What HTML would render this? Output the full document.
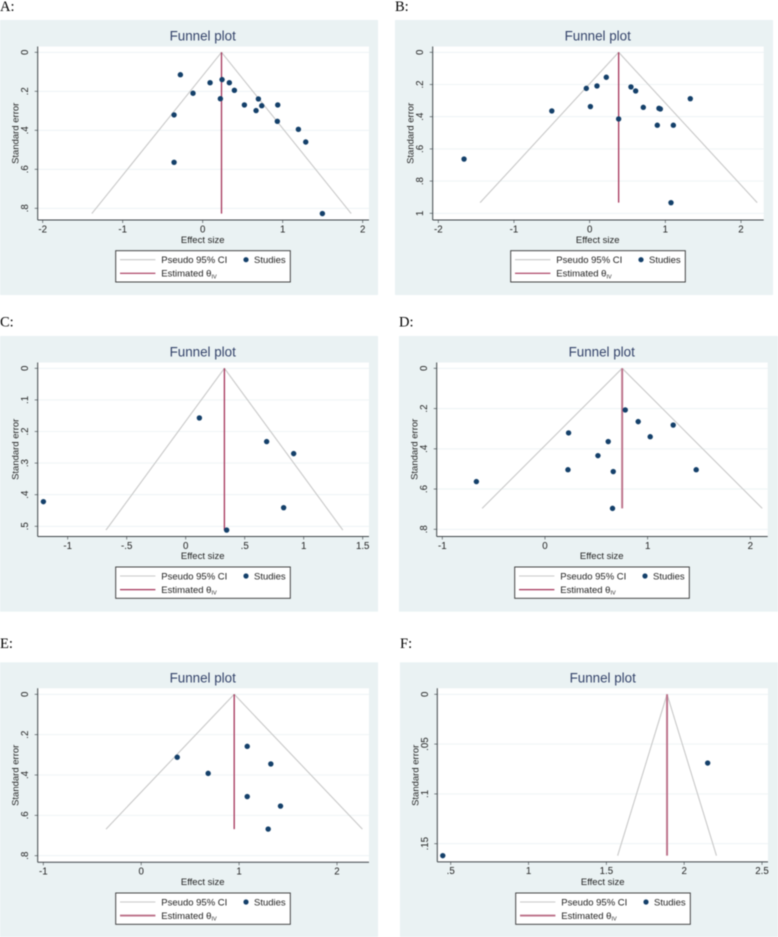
<!DOCTYPE html>
<html lang="en">
<head>
<meta charset="utf-8">
<title>Funnel plots A-F</title>
<style>
html,body{margin:0;padding:0;background:#fff;width:778px;height:937px;overflow:hidden}
svg{display:block;filter:blur(.42px)}
text{font-family:"Liberation Sans",sans-serif;fill:#222}
.letter{font-family:"Liberation Serif",serif;font-size:14.5px;fill:#000}
.bg{fill:#eaf2f3}
.plot{fill:#fff}
.title{font-size:13.4px;fill:#34436a;text-anchor:middle}
.axis-title{font-size:9.5px;text-anchor:middle}
.tick-label{font-size:9.7px;text-anchor:middle}
.grid{stroke:#eaf2f3;stroke-width:.8}
.axis{stroke:#3f4549;stroke-width:1}
.tick{stroke:#4d5358;stroke-width:.7}
.ci{stroke:#c8c8c8;stroke-width:1.1;fill:none}
.est{stroke:#a5345a;stroke-width:1.3}
.est-thick{stroke:#bb6f88;stroke-width:1.9}
.pt{fill:#14406a}
.legend-box{fill:#fff;stroke:#333;stroke-width:.9}
.legend-text{font-size:9.5px}
.legend-ci{stroke:#c8c8c8;stroke-width:1.1}
.legend-est{stroke:#a5345a;stroke-width:1.2}
.legend-est-thick{stroke:#bb6f88;stroke-width:1.9}
</style>
</head>
<body>
<svg xmlns="http://www.w3.org/2000/svg" width="778" height="937" viewBox="0 0 778 937">

<text class="letter" x="0" y="11">A:</text>
<text class="letter" x="395" y="11">B:</text>
<text class="letter" x="0" y="326.5">C:</text>
<text class="letter" x="399" y="326.5">D:</text>
<text class="letter" x="0" y="648">E:</text>
<text class="letter" x="400" y="648">F:</text>

<g transform="translate(0,20)">
  <rect class="bg" width="378" height="275"/>
  <rect class="plot" x="37.7" y="26.5" width="331.3" height="173.5"/>
  <g id="marks-a"></g>
  <text class="title" x="202.7" y="20.7">Funnel plot</text>
  <text class="axis-title" x="202.7" y="222.8">Effect size</text>
  <text class="axis-title" transform="translate(18.3,113.3) rotate(-90)">Standard error</text>
  <g transform="translate(115.7,230.7)">
    <rect class="legend-box" width="174.6" height="31.3"/>
    <line class="legend-ci" x1="4.3" x2="39.7" y1="9" y2="9"/>
    <text class="legend-text" x="45.6" y="12.4">Pseudo 95% CI</text>
    <circle class="pt" cx="130.3" cy="9" r="2.6"/>
    <text class="legend-text" x="138.3" y="12.4">Studies</text>
    <line class="legend-est" x1="4.3" x2="39.7" y1="22.6" y2="22.6"/>
    <text class="legend-text" x="45.6" y="26">Estimated θ<tspan font-size="5.5" dy="1.6">IV</tspan></text>
  </g>
</g>

<g transform="translate(395,20)">
  <rect class="bg" width="378" height="275"/>
  <rect class="plot" x="37.7" y="26.5" width="331" height="173.5"/>
  <g id="marks-b"></g>
  <text class="title" x="202.7" y="20.7">Funnel plot</text>
  <text class="axis-title" x="202.7" y="222.8">Effect size</text>
  <text class="axis-title" transform="translate(18.3,113.3) rotate(-90)">Standard error</text>
  <g transform="translate(115.7,230.7)">
    <rect class="legend-box" width="174.6" height="31.3"/>
    <line class="legend-ci" x1="4.3" x2="39.7" y1="9" y2="9"/>
    <text class="legend-text" x="45.6" y="12.4">Pseudo 95% CI</text>
    <circle class="pt" cx="130.3" cy="9" r="2.6"/>
    <text class="legend-text" x="138.3" y="12.4">Studies</text>
    <line class="legend-est" x1="4.3" x2="39.7" y1="22.6" y2="22.6"/>
    <text class="legend-text" x="45.6" y="26">Estimated θ<tspan font-size="5.5" dy="1.6">IV</tspan></text>
  </g>
</g>

<g transform="translate(0,336)">
  <rect class="bg" width="378" height="275.7"/>
  <rect class="plot" x="37.7" y="26.5" width="331.3" height="174"/>
  <g id="marks-c"></g>
  <text class="title" x="202.7" y="20.7">Funnel plot</text>
  <text class="axis-title" x="202.7" y="222.8">Effect size</text>
  <text class="axis-title" transform="translate(18.3,113.3) rotate(-90)">Standard error</text>
  <g transform="translate(115.7,231)">
    <rect class="legend-box" width="174.6" height="31.3"/>
    <line class="legend-ci" x1="4.3" x2="39.7" y1="9" y2="9"/>
    <text class="legend-text" x="45.6" y="12.4">Pseudo 95% CI</text>
    <circle class="pt" cx="130.3" cy="9" r="2.6"/>
    <text class="legend-text" x="138.3" y="12.4">Studies</text>
    <line class="legend-est" x1="4.3" x2="39.7" y1="22.6" y2="22.6"/>
    <text class="legend-text" x="45.6" y="26">Estimated θ<tspan font-size="5.5" dy="1.6">IV</tspan></text>
  </g>
</g>

<g transform="translate(399,336)">
  <rect class="bg" width="379" height="275.7"/>
  <rect class="plot" x="37.7" y="26.5" width="331" height="174"/>
  <g id="marks-d"></g>
  <text class="title" x="202.7" y="20.7">Funnel plot</text>
  <text class="axis-title" x="202.7" y="222.8">Effect size</text>
  <text class="axis-title" transform="translate(18.3,113.3) rotate(-90)">Standard error</text>
  <g transform="translate(115.7,231)">
    <rect class="legend-box" width="174.6" height="31.3"/>
    <line class="legend-ci" x1="4.3" x2="39.7" y1="9" y2="9"/>
    <text class="legend-text" x="45.6" y="12.4">Pseudo 95% CI</text>
    <circle class="pt" cx="130.3" cy="9" r="2.6"/>
    <text class="legend-text" x="138.3" y="12.4">Studies</text>
    <line class="legend-est" x1="4.3" x2="39.7" y1="22.6" y2="22.6"/>
    <text class="legend-text" x="45.6" y="26">Estimated θ<tspan font-size="5.5" dy="1.6">IV</tspan></text>
  </g>
</g>

<g transform="translate(0,662.3)">
  <rect class="bg" width="378" height="274.7"/>
  <rect class="plot" x="37.7" y="26" width="331.3" height="174"/>
  <g id="marks-e"></g>
  <text class="title" x="202.7" y="20.4">Funnel plot</text>
  <text class="axis-title" x="202.7" y="222.6">Effect size</text>
  <text class="axis-title" transform="translate(18.3,113) rotate(-90)">Standard error</text>
  <g transform="translate(115.7,230.7)">
    <rect class="legend-box" width="174.6" height="31.3"/>
    <line class="legend-ci" x1="4.3" x2="39.7" y1="9" y2="9"/>
    <text class="legend-text" x="45.6" y="12.4">Pseudo 95% CI</text>
    <circle class="pt" cx="130.3" cy="9" r="2.6"/>
    <text class="legend-text" x="138.3" y="12.4">Studies</text>
    <line class="legend-est-thick" x1="4.3" x2="39.7" y1="22.6" y2="22.6"/>
    <text class="legend-text" x="45.6" y="26">Estimated θ<tspan font-size="5.5" dy="1.6">IV</tspan></text>
  </g>
</g>

<g transform="translate(400,662.3)">
  <rect class="bg" width="378" height="274.7"/>
  <rect class="plot" x="37.3" y="26" width="330.7" height="173.6"/>
  <g id="marks-f"></g>
  <text class="title" x="202.7" y="20.4">Funnel plot</text>
  <text class="axis-title" x="202.7" y="222.6">Effect size</text>
  <text class="axis-title" transform="translate(18.3,113) rotate(-90)">Standard error</text>
  <g transform="translate(115.7,230.7)">
    <rect class="legend-box" width="174.6" height="31.3"/>
    <line class="legend-ci" x1="4.3" x2="39.7" y1="9" y2="9"/>
    <text class="legend-text" x="45.6" y="12.4">Pseudo 95% CI</text>
    <circle class="pt" cx="130.3" cy="9" r="2.6"/>
    <text class="legend-text" x="138.3" y="12.4">Studies</text>
    <line class="legend-est-thick" x1="4.3" x2="39.7" y1="22.6" y2="22.6"/>
    <text class="legend-text" x="45.6" y="26">Estimated θ<tspan font-size="5.5" dy="1.6">IV</tspan></text>
  </g>
</g>
</svg>

<script>
// Panel A
const panelAEffect = [-0.279, -0.121, 0.092, 0.242, 0.333, 0.396, 0.221, 0.696, 0.521, 0.738, 0.667, 0.938, 0.933, 1.196, 1.288, -0.358, -0.358, 1.496];
const panelASE = [0.115, 0.21, 0.156, 0.14, 0.156, 0.195, 0.238, 0.239, 0.27, 0.274, 0.299, 0.27, 0.354, 0.395, 0.46, 0.321, 0.564, 0.827];
const panelATheta = [0.235];
const panelAXTicks = [-2, -1, 0, 1, 2];
const panelAXLabels = ["-2", "-1", "0", "1", "2"];
const panelAYTicks = [0, 0.2, 0.4, 0.6, 0.8];
const panelAYLabels = ["0", ".2", ".4", ".6", ".8"];

// Panel B
const panelBEffect = [-1.66, -0.5, -0.044, 0.01, 0.097, 0.22, 0.546, 0.608, 0.709, 0.916, 0.934, 1.33, 0.383, 0.894, 1.106, 1.075];
const panelBSE = [0.663, 0.364, 0.224, 0.337, 0.209, 0.155, 0.215, 0.24, 0.342, 0.348, 0.352, 0.288, 0.414, 0.453, 0.453, 0.934];
const panelBTheta = [0.383];
const panelBXTicks = [-2, -1, 0, 1, 2];
const panelBXLabels = ["-2", "-1", "0", "1", "2"];
const panelBYTicks = [0, 0.2, 0.4, 0.6, 0.8, 1];
const panelBYLabels = ["0", ".2", ".4", ".6", ".8", "1"];

// Panel C
const panelCEffect = [-1.206, 0.116, 0.686, 0.915, 0.83, 0.347];
const panelCSE = [0.422, 0.157, 0.232, 0.27, 0.441, 0.512];
const panelCTheta = [0.328];
const panelCXTicks = [-1, -0.5, 0, 0.5, 1, 1.5];
const panelCXLabels = ["-1", "-.5", "0", ".5", "1", "1.5"];
const panelCYTicks = [0, 0.1, 0.2, 0.3, 0.4, 0.5];
const panelCYLabels = ["0", ".1", ".2", ".3", ".4", ".5"];

// Panel D
const panelDEffect = [-0.668, 0.23, 0.224, 0.516, 0.616, 0.665, 0.658, 0.782, 0.908, 1.025, 1.249, 1.473];
const panelDSE = [0.563, 0.321, 0.504, 0.434, 0.364, 0.513, 0.696, 0.207, 0.265, 0.34, 0.282, 0.504];
const panelDTheta = [0.752];
const panelDXTicks = [-1, 0, 1, 2];
const panelDXLabels = ["-1", "0", "1", "2"];
const panelDYTicks = [0, 0.2, 0.4, 0.6, 0.8];
const panelDYLabels = ["0", ".2", ".4", ".6", ".8"];

// Panel E
const panelEEffect = [1.083, 1.324, 0.368, 0.684, 1.083, 1.423, 1.297];
const panelESE = [0.258, 0.345, 0.312, 0.392, 0.507, 0.554, 0.668];
const panelETheta = [0.95];
const panelEXTicks = [-1, 0, 1, 2];
const panelEXLabels = ["-1", "0", "1", "2"];
const panelEYTicks = [0, 0.2, 0.4, 0.6, 0.8];
const panelEYLabels = ["0", ".2", ".4", ".6", ".8"];

// Panel F
const panelFEffect = [0.449, 2.151];
const panelFSE = [0.162, 0.069];
const panelFTheta = [1.89];
const panelFXTicks = [0.5, 1, 1.5, 2, 2.5];
const panelFXLabels = [".5", "1", "1.5", "2", "2.5"];
const panelFYTicks = [0, 0.05, 0.1, 0.15];
const panelFYLabels = ["0", ".05", ".1", ".15"];

const SVG_NS = "http://www.w3.org/2000/svg";

function makeNode(parent, tag, cls) {
  const el = document.createElementNS(SVG_NS, tag);
  el.setAttribute("class", cls);
  parent.appendChild(el);
  return el;
}

function setLine(el, x1, y1, x2, y2) {
  el.setAttribute("x1", x1);
  el.setAttribute("y1", y1);
  el.setAttribute("x2", x2);
  el.setAttribute("y2", y2);
}

function linearAxis(domainLow, domainHigh, pxLow, pxHigh) {
  return function (v) {
    return pxLow + (v - domainLow) / (domainHigh - domainLow) * (pxHigh - pxLow);
  };
}

function drawFunnel(id, effect, se, thetaArr, xTicks, xLabels, yTicks, yLabels, frame) {
  const g = document.getElementById("marks-" + id);
  const theta = thetaArr[0];
  const xAt = linearAxis(xTicks[0], xTicks[xTicks.length - 1], frame.xFirst, frame.xLast);
  const yAt = linearAxis(yTicks[0], yTicks[yTicks.length - 1], frame.yFirst, frame.yLast);
  const seMax = Math.max.apply(null, se);

  yTicks.forEach(function (t, i) {
    const grid = makeNode(g, "line", "grid");
    setLine(grid, frame.left, yAt(t), frame.right, yAt(t));
    
    

    const tick = makeNode(g, "line", "tick");
    setLine(tick, frame.left - 3, yAt(t), frame.left, yAt(t));
    
    

    const label = makeNode(g, "text", "tick-label");
    label.setAttribute("transform", "translate(28.2," + yAt(t) + ") rotate(-90)");
    label.textContent = yLabels[i];
    
    
  });

  xTicks.forEach(function (t, i) {
    const tick = makeNode(g, "line", "tick");
    setLine(tick, xAt(t), frame.bottom, xAt(t), frame.bottom + 3);
    
    

    const label = makeNode(g, "text", "tick-label");
    label.setAttribute("x", xAt(t));
    label.setAttribute("y", frame.bottom + 12.3);
    label.textContent = xLabels[i];
    
    
  });

  const yAxis = makeNode(g, "line", "axis");
  setLine(yAxis, frame.left, frame.top, frame.left, frame.bottom);
  
  

  const xAxis = makeNode(g, "line", "axis");
  setLine(xAxis, frame.left, frame.bottom, frame.right, frame.bottom);
  
  

  const ciLower = makeNode(g, "line", "ci");
  setLine(ciLower, xAt(theta), yAt(0), xAt(theta - 1.96 * seMax), yAt(seMax));
  
  

  const ciUpper = makeNode(g, "line", "ci");
  setLine(ciUpper, xAt(theta), yAt(0), xAt(theta + 1.96 * seMax), yAt(seMax));
  
  

  const est = makeNode(g, "line", frame.thick ? "est-thick" : "est");
  setLine(est, xAt(theta), yAt(0), xAt(theta), yAt(seMax));
  
  

  effect.forEach(function (v, i) {
    const dot = makeNode(g, "circle", "pt");
    dot.setAttribute("cx", xAt(v));
    dot.setAttribute("cy", yAt(se[i]));
    dot.setAttribute("r", 2.7);
    
    
  });
}

drawFunnel("a", panelAEffect, panelASE, panelATheta, panelAXTicks, panelAXLabels, panelAYTicks, panelAYLabels,
  {left: 37.7, right: 369, top: 26.5, bottom: 200, xFirst: 42.7, xLast: 362.7, yFirst: 32.3, yLast: 188.3, thick: false});
drawFunnel("b", panelBEffect, panelBSE, panelBTheta, panelBXTicks, panelBXLabels, panelBYTicks, panelBYLabels,
  {left: 37.7, right: 368.7, top: 26.5, bottom: 200, xFirst: 43.3, xLast: 346, yFirst: 32.3, yLast: 193.3, thick: false});
drawFunnel("c", panelCEffect, panelCSE, panelCTheta, panelCXTicks, panelCXLabels, panelCYTicks, panelCYLabels,
  {left: 37.7, right: 369, top: 26.5, bottom: 200.5, xFirst: 67.7, xLast: 362.7, yFirst: 32.3, yLast: 190.3, thick: false});
drawFunnel("d", panelDEffect, panelDSE, panelDTheta, panelDXTicks, panelDXLabels, panelDYTicks, panelDYLabels,
  {left: 37.7, right: 368.7, top: 26.5, bottom: 200.5, xFirst: 43.3, xLast: 351.3, yFirst: 32.3, yLast: 193.3, thick: true});
drawFunnel("e", panelEEffect, panelESE, panelETheta, panelEXTicks, panelEXLabels, panelEYTicks, panelEYLabels,
  {left: 37.7, right: 369, top: 26, bottom: 200, xFirst: 43.3, xLast: 337, yFirst: 32, yLast: 193.4, thick: false});
drawFunnel("f", panelFEffect, panelFSE, panelFTheta, panelFXTicks, panelFXLabels, panelFYTicks, panelFYLabels,
  {left: 37.3, right: 368, top: 26, bottom: 199.6, xFirst: 50.7, xLast: 362, yFirst: 32, yLast: 181.4, thick: true});
</script>
</body>
</html>
